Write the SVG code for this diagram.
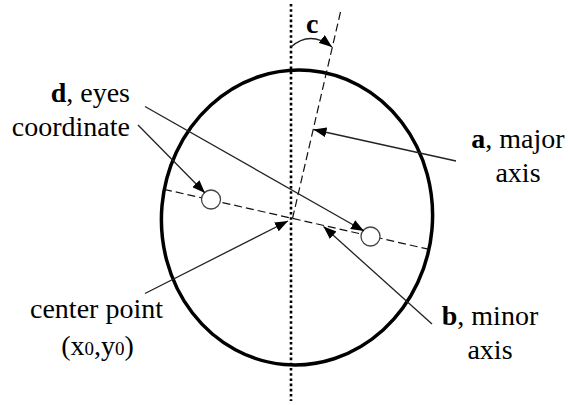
<svg xmlns="http://www.w3.org/2000/svg" width="568" height="405" viewBox="0 0 568 405">
<style>
  text { font-family: "Liberation Serif", "Times New Roman", serif; font-size: 28px; fill: #000; }
  .b { font-weight: bold; }
  .conn { stroke: #222; stroke-width: 1.3; fill: none; }
  .dash { stroke: #111; stroke-width: 1.2; fill: none; stroke-dasharray: 8 4; }
  .eye { fill: #fff; stroke: #444; stroke-width: 1.3; }
</style>
<defs>
  <marker id="arr" markerUnits="userSpaceOnUse" markerWidth="14" markerHeight="10" refX="13" refY="5" orient="auto">
    <path d="M0,0 L13,5 L0,10 z" fill="#000"/>
  </marker>
</defs>
<rect width="568" height="405" fill="#fff"/>

<g id="face">
  <ellipse cx="297" cy="217.5" rx="135.5" ry="147.5" transform="rotate(5 297 217.5)" fill="none" stroke="#000" stroke-width="3.5"/>
</g>
<g id="vertical-axis">
  <line x1="291" y1="4" x2="291" y2="401" stroke="#000" stroke-width="2.6" stroke-dasharray="2.6 2.6"/>
</g>
<g id="major-axis">
  <line class="dash" x1="340.5" y1="12" x2="292.5" y2="218.5"/>
</g>
<g id="minor-axis">
  <line class="dash" x1="164" y1="189.3" x2="432" y2="250"/>
</g>
<g id="left-eye"><circle class="eye" cx="211" cy="199.5" r="9.5"/></g>
<g id="right-eye"><circle class="eye" cx="370.5" cy="236.5" r="9.5"/></g>

<g id="label-c"><text class="b" x="306" y="33">c</text></g>
<g id="label-d">
  <text x="130" y="102" text-anchor="end"><tspan class="b">d</tspan>, eyes</text>
  <text x="130" y="136" text-anchor="end">coordinate</text>
</g>
<g id="label-a">
  <text x="518" y="148" text-anchor="middle"><tspan class="b">a</tspan>, major</text>
  <text x="518" y="182" text-anchor="middle">axis</text>
</g>
<g id="label-b">
  <text x="490" y="325" text-anchor="middle"><tspan class="b">b</tspan>, minor</text>
  <text x="490" y="359" text-anchor="middle">axis</text>
</g>
<g id="label-center">
  <text x="96.5" y="318" text-anchor="middle">center point</text>
  <text x="97.5" y="355" text-anchor="middle">(x<tspan font-size="19">0</tspan>,y<tspan font-size="19">0</tspan>)</text>
</g>

<g id="connectors">
  <path class="conn" d="M291,47 Q310,30 332,47" marker-end="url(#arr)"/>
  <line class="conn" x1="145" y1="106.5" x2="364" y2="231" marker-end="url(#arr)"/>
  <line class="conn" x1="138" y1="125" x2="205" y2="193" marker-end="url(#arr)"/>
  <line class="conn" x1="456" y1="161" x2="313.5" y2="129.5" marker-end="url(#arr)"/>
  <line class="conn" x1="145" y1="293.5" x2="288" y2="221" marker-end="url(#arr)"/>
  <line class="conn" x1="432" y1="324" x2="323.5" y2="226.5" marker-end="url(#arr)"/>
</g>
</svg>
